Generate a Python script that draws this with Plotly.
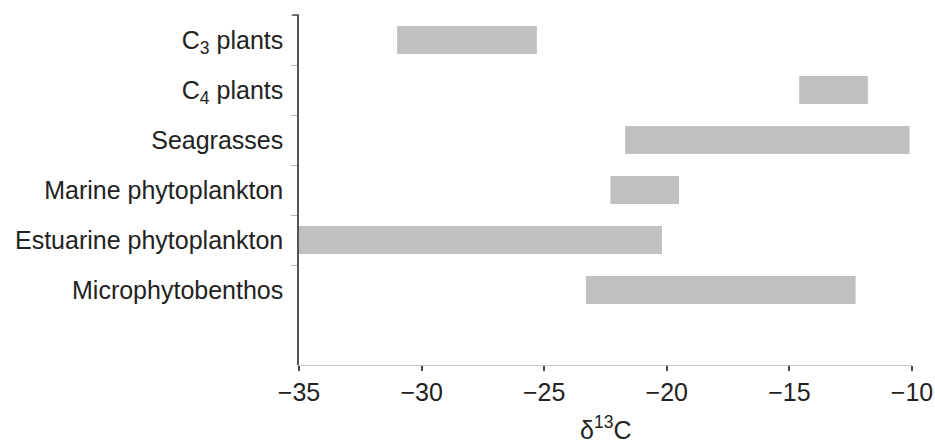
import plotly.graph_objects as go

# Primary producer groups and their δ13C ranges (‰)
sources = [
    "C<sub>3</sub> plants",
    "C<sub>4</sub> plants",
    "Seagrasses",
    "Marine phytoplankton",
    "Estuarine phytoplankton",
    "Microphytobenthos",
]
d13c_low = [-31.0, -14.6, -21.7, -22.3, -35.0, -23.3]
d13c_high = [-25.3, -11.8, -10.1, -19.5, -20.2, -12.3]

x_ticks = [-35, -30, -25, -20, -15, -10]
x_title = "δ<sup>13</sup>C"

spans = [hi - lo for lo, hi in zip(d13c_low, d13c_high)]

FONT = "Liberation Sans, Arial, Helvetica, sans-serif"
TEXT = "#222222"
FS = 25

fig = go.Figure(
    go.Bar(
        y=sources,
        x=spans,
        base=d13c_low,
        orientation="h",
        width=0.56,
        marker=dict(color="#c0c0c0", line=dict(width=0)),
        hovertemplate="%{y}: %{base} to %{x}<extra></extra>",
    )
)

fig.update_layout(
    width=935,
    height=443,
    margin=dict(l=299, r=23, t=15, b=78),
    paper_bgcolor="white",
    plot_bgcolor="white",
    showlegend=False,
    font=dict(family=FONT, size=FS, color=TEXT),
    # short dark cap at the top of the vertical axis
    shapes=[
        dict(
            type="line",
            xref="paper",
            yref="paper",
            x0=-0.011,
            x1=0,
            y0=1,
            y1=1,
            line=dict(color="#555555", width=1.5),
        )
    ],
    # x-axis title placed at the very bottom of the figure
    annotations=[
        dict(
            text=x_title,
            xref="paper",
            yref="paper",
            x=0.5,
            y=0,
            xanchor="center",
            yanchor="bottom",
            yshift=-81,
            showarrow=False,
            font=dict(size=FS, color=TEXT),
        )
    ],
)

fig.update_xaxes(
    range=[-35, -10],
    automargin=False,
    tickmode="array",
    tickvals=x_ticks,
    ticks="outside",
    ticklen=5,
    tickwidth=1.5,
    tickcolor="#444444",
    showline=True,
    linecolor="#c8c8c8",
    linewidth=1,
    showgrid=False,
    zeroline=False,
    tickfont=dict(size=FS, color=TEXT),
)

fig.update_yaxes(
    type="category",
    automargin=False,
    categoryorder="array",
    categoryarray=sources,
    range=[6.5, -0.5],
    tickson="boundaries",
    ticks="outside",
    ticklen=6,
    tickwidth=1,
    tickcolor="#b5b5b5",
    showline=True,
    linecolor="#555555",
    linewidth=1.5,
    showgrid=False,
    zeroline=False,
    ticklabelstandoff=9,
    tickfont=dict(size=FS, color=TEXT),
)

fig.write_html("out.html")
